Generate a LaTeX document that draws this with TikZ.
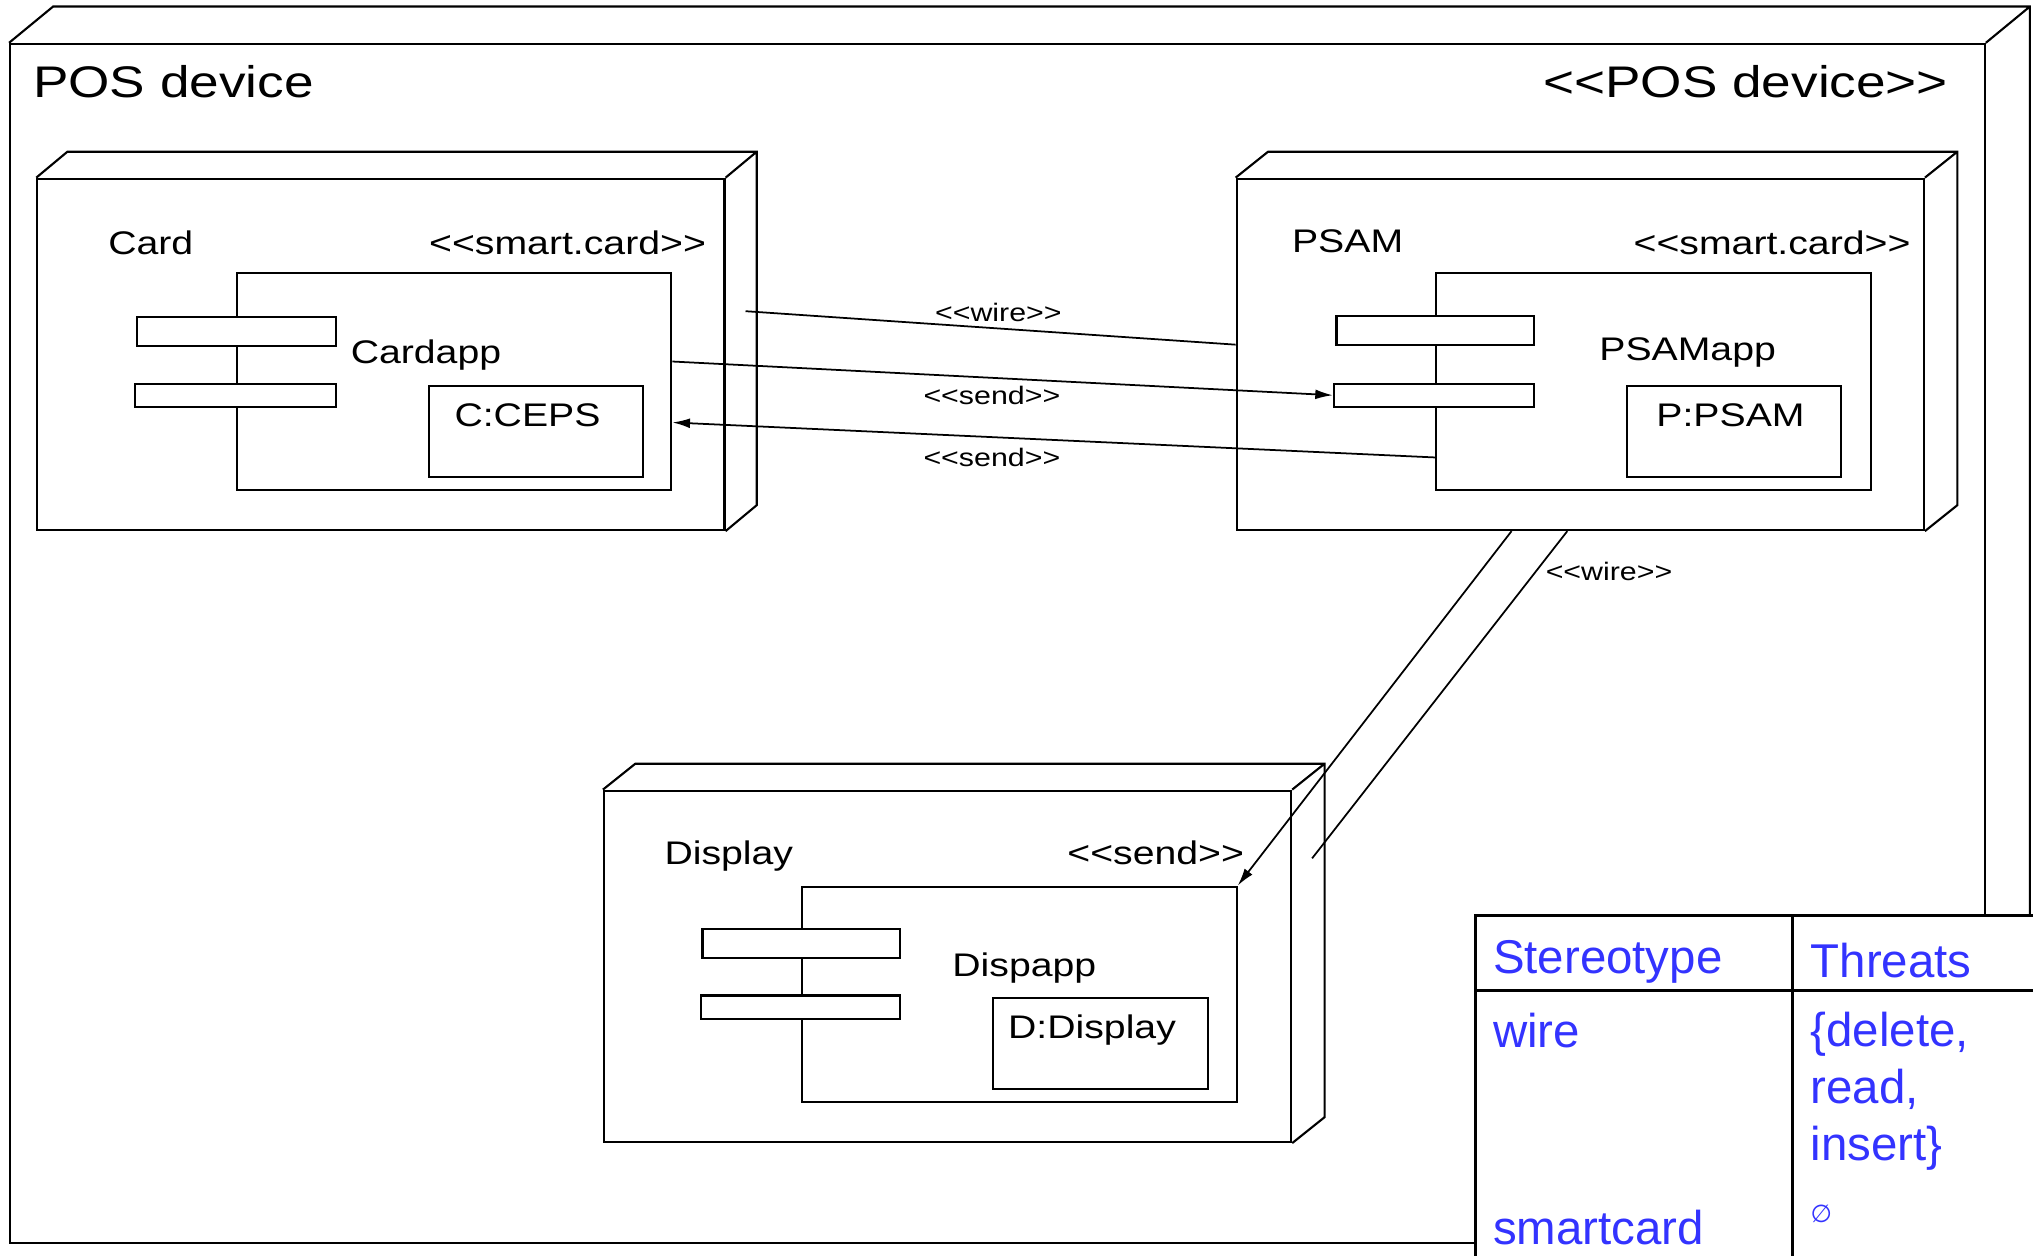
\documentclass[tikz,border=0pt]{standalone}
\usepackage{fontspec}
\setmainfont{Liberation Sans}[Ligatures=TeXOff]
\newfontfamily\umlfont{Liberation Sans}[FakeStretch=1.2, Ligatures=TeXOff]
\newfontfamily\symfont{DejaVu Sans}
\usetikzlibrary{arrows.meta, calc}

\definecolor{threatblue}{RGB}{51,51,255}
\newcommand{\unitpx}{0.012966cm}
% back edges of a node box (depth dx, dy)
\newcommand{\nodedepth}[3]{%
  \draw[boxline] (#1.north west) -- ++(#2,-#3) -- ($(#1.north east)+(#2,-#3)$)
    -- ($(#1.south east)+(#2,-#3)$) -- (#1.south east)
    (#1.north east) -- ++(#2,-#3);}

\tikzset{
  boxline/.style={line width=0.6pt},
  face/.style={draw, line width=0.6pt, rectangle, inner sep=0pt, anchor=north west},
  port/.style={face, fill=white},
  titletext/.style={font=\umlfont\fontsize{12.6}{15}\selectfont, inner sep=0pt},
  boxtext/.style={font=\umlfont\fontsize{9.3}{11}\selectfont, inner sep=0pt},
  linklabel/.style={font=\umlfont\fontsize{7.2}{8}\selectfont, inner sep=0pt},
  link/.style={line width=0.5pt},
  flow/.style={link, -{Latex[length=5pt, width=2.8pt]}},
  cellbox/.style={face, line width=0.9pt, fill=white},
  celltext/.style={font=\fontsize{13.5}{16}\selectfont, text=threatblue, inner sep=0pt, anchor=base west},
}

\begin{document}
\begin{tikzpicture}[x=0.012966cm, y=-0.012966cm]
    \useasboundingbox (0,0) rectangle (1568,968);
    \clip (0,0) rectangle (1568,968);

    % POS device frame
    \node[face, minimum width=1523*\unitpx, minimum height=925*\unitpx] (pos) at (7,33) {};
    \nodedepth{pos}{34}{28}
    \node[titletext, anchor=base west] (posname) at (25,75) {POS device};
    \node[titletext, anchor=base east] (posstereo) at (1503,75) {<<POS device>>};

    % Card
    \node[face, minimum width=530*\unitpx, minimum height=271*\unitpx] (card) at (28,137) {};
    \nodedepth{card}{24}{20}
    \node[boxtext, anchor=base west] (cardname) at (83,196) {Card};
    \node[boxtext, anchor=base east] (cardstereo) at (545,196) {<<smart.card>>};
    \node[face, minimum width=335*\unitpx, minimum height=167*\unitpx] (cardapp) at (182,210) {};
    \node[port, minimum width=153*\unitpx, minimum height=22*\unitpx] (cardport1) at (105,244) {};
    \node[port, minimum width=155*\unitpx, minimum height=18*\unitpx] (cardport2) at (103,295) {};
    \node[boxtext, anchor=base west] (cardappname) at (270,280) {Cardapp};
    \node[face, minimum width=165*\unitpx, minimum height=70*\unitpx] (ceps) at (330,297) {};
    \node[boxtext, anchor=base west] (cepsname) at (350,329) {C:CEPS};

    % PSAM
    \node[face, minimum width=530*\unitpx, minimum height=271*\unitpx] (psam) at (953,137) {};
    \nodedepth{psam}{25}{20}
    \node[boxtext, anchor=base west] (psamname) at (996,195) {PSAM};
    \node[boxtext, anchor=base east] (psamstereo) at (1474,196) {<<smart.card>>};
    \node[face, minimum width=335*\unitpx, minimum height=167*\unitpx] (psamapp) at (1107,210) {};
    \node[port, minimum width=152*\unitpx, minimum height=22*\unitpx] (psamport1) at (1030,243) {};
    \node[port, minimum width=154*\unitpx, minimum height=18*\unitpx] (psamport2) at (1028,295) {};
    \node[boxtext, anchor=base west] (psamappname) at (1233,278) {PSAMapp};
    \node[face, minimum width=165*\unitpx, minimum height=70*\unitpx] (psamobj) at (1254,297) {};
    \node[boxtext, anchor=base west] (psamobjname) at (1277,329) {P:PSAM};

    % Display
    \node[face, minimum width=530*\unitpx, minimum height=271*\unitpx] (disp) at (465,609) {};
    \nodedepth{disp}{25}{20}
    \node[boxtext, anchor=base west] (dispname) at (512,667) {Display};
    \node[boxtext, anchor=base east] (dispstereo) at (960,667) {<<send>>};
    \node[face, minimum width=335*\unitpx, minimum height=166*\unitpx] (dispapp) at (618,683) {};
    \node[port, minimum width=152*\unitpx, minimum height=22*\unitpx] (dispport1) at (541,716) {};
    \node[port, minimum width=153*\unitpx, minimum height=18*\unitpx] (dispport2) at (540,767) {};
    \node[boxtext, anchor=base west] (dispappname) at (734,753) {Dispapp};
    \node[face, minimum width=166*\unitpx, minimum height=70*\unitpx] (dispobj) at (765,769) {};
    \node[boxtext, anchor=base west] (dispobjname) at (777,801) {D:Display};

    % links between the cards
    \coordinate (cardwire) at (575,240);
    \draw[link] (cardwire) -- ($(psam.west)+(0,-7.5)$);
    \draw[flow] ($(cardapp.east)+(0,-15.5)$) -- (psamport2.west);
    \draw[flow] ($(psamapp.west)+(0,58.5)$) -- ($(cardapp.east)+(0,31.5)$);
    \node[linklabel] (wire1) at (770,241) {<<wire>>};
    \node[linklabel] (send1) at (765,305) {<<send>>};
    \node[linklabel] (send2) at (765,353) {<<send>>};

    % PSAM to display
    \coordinate (dispwire) at (1012,662);
    \draw[flow] ($(psam.south)+(-53,0)$) -- (dispapp.north east);
    \draw[link] ($(psam.south)+(-10,0)$) -- (dispwire);
    \node[linklabel] (wire2) at (1241,441) {<<wire>>};

    % threat table
    \node[cellbox, minimum width=244*\unitpx, minimum height=58*\unitpx] (headst) at (1137,705) {};
    \node[cellbox, minimum width=260*\unitpx, minimum height=58*\unitpx] (headth) at (1381,705) {};
    \node[cellbox, minimum width=244*\unitpx, minimum height=260*\unitpx] (colst) at (1137,763) {};
    \node[cellbox, minimum width=260*\unitpx, minimum height=260*\unitpx] (colth) at (1381,763) {};
    \node[celltext] (sthead) at (1151,751) {Stereotype};
    \node[celltext] (thhead) at (1396,754) {Threats};
    \node[celltext] (stwire) at (1151,808) {wire};
    \node[celltext] (thwire1) at (1396,807) {\{delete,};
    \node[celltext] (thwire2) at (1396,851) {read,};
    \node[celltext] (thwire3) at (1396,895) {insert\}};
    \node[celltext] (stcard) at (1151,960) {smartcard};
    \node[celltext, font=\symfont\fontsize{7}{8}\selectfont] (thcard) at (1396,943) {∅};
\end{tikzpicture}
\end{document}
